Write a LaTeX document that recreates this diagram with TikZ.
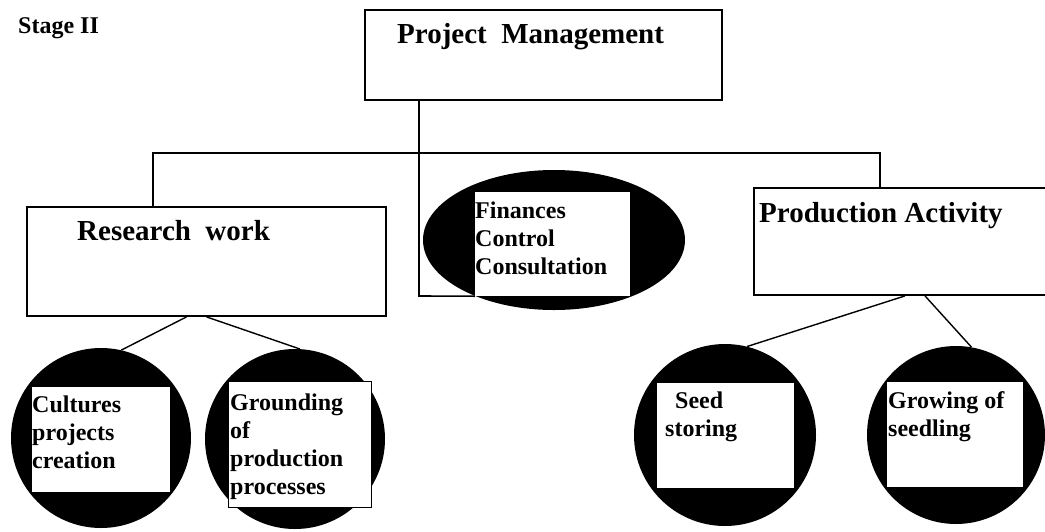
\documentclass[tikz,border=0pt]{standalone}
\usepackage{fontspec}
\setmainfont{Liberation Serif}
\usetikzlibrary{shapes.geometric}
\pgfdeclarelayer{background}
\pgfsetlayers{background,main}
\newcommand\stacklines[1]{\vtop{\baselineskip=28pt\halign{##\hfil\cr#1\crcr}}}
\begin{document}
\begin{tikzpicture}[x=1pt,y=-1pt,
  box/.style={draw,line width=1.8pt,fill=white,inner sep=0pt},
  inbox/.style={fill=white,inner sep=0pt},
  blob/.style={fill=black,inner sep=0pt},
  head/.style={font=\fontsize{29}{34}\selectfont\bfseries,inner sep=0pt,anchor=base west},
  lbl/.style={font=\fontsize{24}{28}\selectfont\bfseries,inner sep=0pt,anchor=base west},
  tree/.style={line width=1.6pt},
  link/.style={line width=1.4pt}]

\useasboundingbox (0,0) rectangle (1045,531);
\clip (0,0) rectangle (1045,531);

\node[lbl] (stage) at (18,33) {Stage II};

% boxes
\node[box,minimum width=357pt,minimum height=90pt] (pm) at (543.5,55) {};
\node[box,minimum width=359pt,minimum height=109pt] (rw) at (206.5,261.5) {};
\node[box,minimum width=298pt,minimum height=107pt] (pa) at (903,241.5) {};

% ellipse
\node[blob,ellipse,minimum width=262pt,minimum height=140pt] (fe) at (554,240) {};
\node[inbox,minimum width=155pt,minimum height=104pt] (fb) at (552.5,244) {};

% circles
\node[blob,circle,minimum size=180pt] (c1) at (101,438) {};
\node[inbox,minimum width=138pt,minimum height=105pt] (b1) at (101,439.5) {};
\node[blob,circle,minimum size=180pt] (c2) at (295,439) {};
\node[inbox,draw,line width=0.6pt,minimum width=143pt,minimum height=126pt] (b2) at (299.5,444) {};
\node[blob,circle,minimum size=182pt] (c3) at (725,435) {};
\node[inbox,minimum width=137pt,minimum height=105pt] (b3) at (725.5,435.5) {};
\node[blob,circle,minimum size=178pt] (c4) at (956,435) {};
\node[inbox,minimum width=136pt,minimum height=105pt] (b4) at (955,434.5) {};

% texts
\node[head] (pmt) at (397,43) {Project\ \ Management};
\node[head] (rwt) at (77,240) {Research\ \ work};
\node[head] (pat) at (759,222) {Production Activity};
\node[lbl] (fbt) at (475,218) {\stacklines{Finances\cr Control\cr Consultation}};
\node[lbl] (b1t) at (32,412) {\stacklines{Cultures\cr projects\cr creation}};
\node[lbl] (b2t) at (230,410) {\stacklines{Grounding\cr of\cr production\cr processes}};
\node[lbl] (b3t) at (665,408) {\stacklines{\hspace{10pt}Seed\cr storing}};
\node[lbl] (b4t) at (888,408) {\stacklines{Growing of\cr seedling}};

% connectors
\begin{pgfonlayer}{background}
\fill[white] (0,0) rectangle (1045,531);
\coordinate (barL) at (153,153);
\coordinate (barR) at (880,153);
\coordinate (stem) at (419,296);
\draw[tree] (rw.north -| barL) -- (barL) -- (barR) -- (pa.north -| barR);
\draw[tree] (pm.south -| stem) -- (stem) -- (fb.south west);
\draw[link] ([xshift=-20pt]rw.south) -- (c1.77);
\draw[link] (rw.south) -- (c2.87);
\draw[link] ([xshift=2pt]pa.south) -- (c3.76);
\draw[link] ([xshift=22pt]pa.south) -- (c4.80);
\end{pgfonlayer}
\end{tikzpicture}
\end{document}
